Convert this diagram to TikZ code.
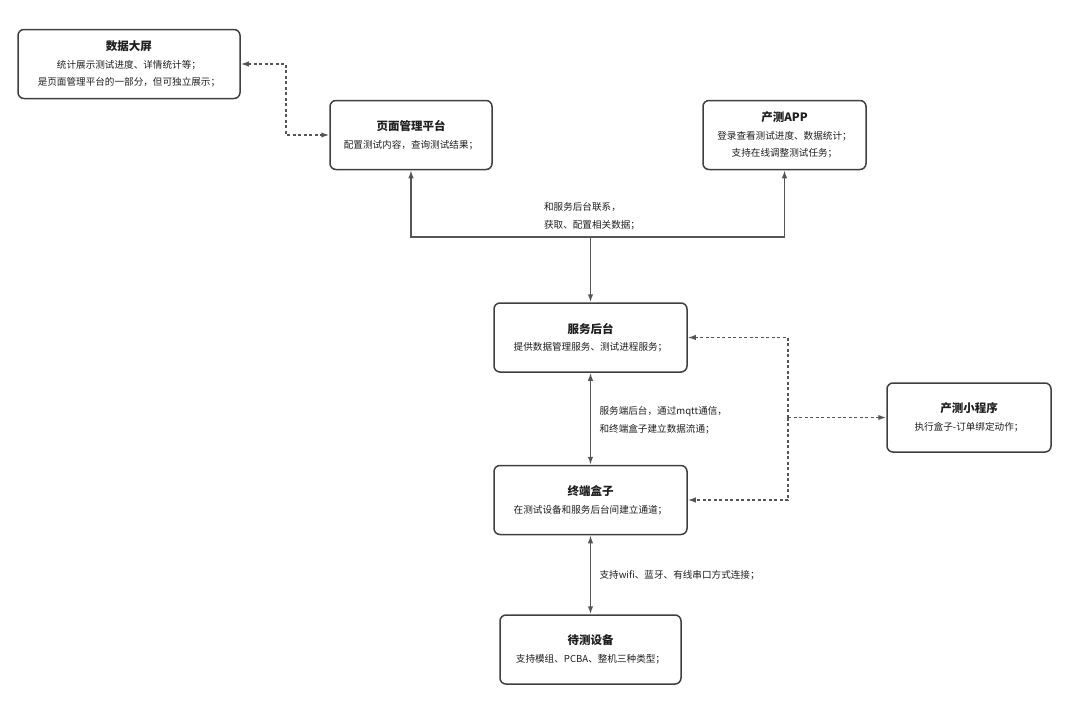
\documentclass[tikz,border=0pt]{standalone}
\usepackage{fontspec}
\setmainfont{Noto Sans CJK SC}
\usepackage{xcolor}
\usetikzlibrary{arrows.meta, positioning}

\definecolor{boxline}{HTML}{3F3F3F}
\definecolor{wire}{HTML}{555555}
\definecolor{ink}{HTML}{1E1E1E}

\tikzset{
  block/.style={draw=boxline, line width=1.5pt, rounded corners=6pt, align=center, text=ink,
    minimum height=69pt, inner sep=0pt, font=\fontsize{9.6}{17.5}\selectfont},
  wirelabel/.style={anchor=west, align=left, text=ink, font=\fontsize{9.6}{18}\selectfont},
  dashlink/.style={dash pattern=on 3pt off 2.5pt}
}
\newcommand{\blocktitle}[1]{{\fontsize{11.5}{17.5}\selectfont\bfseries #1}}

\begin{document}
\begin{tikzpicture}[x=1pt, y=-1pt, >={Latex[length=8pt,width=5.5pt]}, draw=wire, line width=1.5pt]
    \useasboundingbox (0,0) rectangle (1080,704);

        \node[block, minimum width=222pt] (screen) at (129,64)
            {\blocktitle{数据大屏}\\统计展示测试进度、详情统计等；\\是页面管理平台的一部分，但可独立展示；};
        \node[block, minimum width=162pt] (web) at (411,135)
            {\blocktitle{页面管理平台}\\配置测试内容，查询测试结果；};
        \node[block, minimum width=163pt] (app) at (784.5,135)
            {\blocktitle{产测APP}\\登录查看测试进度、数据统计；\\支持在线调整测试任务；};
        \node[block, minimum width=193pt] (server) at (590.5,337.5)
            {\blocktitle{服务后台}\\提供数据管理服务、测试进程服务；};
        \node[block, minimum width=193pt, below=92pt of server] (gateway)
            {\blocktitle{终端盒子}\\在测试设备和服务后台间建立通道；};
        \node[block, minimum width=181pt, below=79pt of gateway] (device)
            {\blocktitle{待测设备}\\支持模组、PCBA、整机三种类型；};
        \node[block, minimum width=164pt] (mini) at (969,417.5)
            {\blocktitle{产测小程序}\\执行盒子-订单绑定动作；};

        \coordinate (fork) at (590.5,237);
        \coordinate (bus) at (788,417.5);

        % upper tree
        \draw[->] (fork) -- (server);
        \draw[->] (fork) -| (web);
        \draw[->] (fork) -| (app);
        \node[wirelabel] at (540,216) {和服务后台联系，\\获取、配置相关数据；};

        % vertical chain
        \draw[<->] (server) -- node[wirelabel, pos=0.52, xshift=5pt] {服务端后台，通过mqtt通信，\\和终端盒子建立数据流通；} (gateway);
        \draw[<->] (gateway) -- node[wirelabel, pos=0.5, xshift=5pt] {支持wifi、蓝牙、有线串口方式连接；} (device);

        % dashed links
        \draw[<->, dashlink] (screen.east) -- ++(45,0) |- (web.west);
        \draw[->, dashlink] (bus) |- (server.east);
        \draw[->, dashlink] (bus) |- (gateway.east);
        \draw[->, dashlink] (bus) -- (mini.west);

\end{tikzpicture}
\end{document}
